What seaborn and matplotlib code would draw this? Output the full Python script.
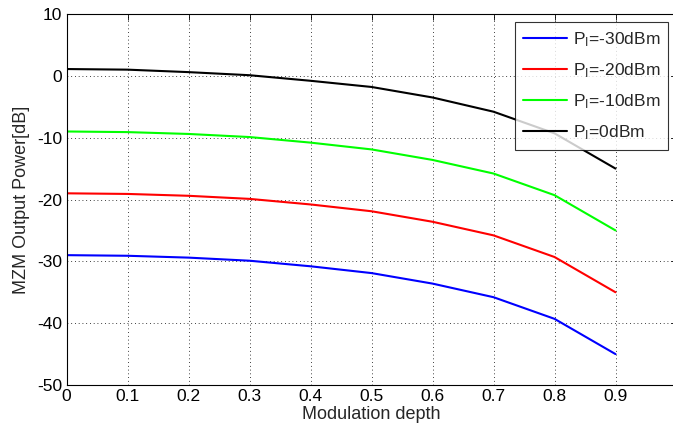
import numpy as np
import pandas as pd
import matplotlib
matplotlib.use("Agg")
import matplotlib.pyplot as plt
import seaborn as sns

depth = [0.0, 0.1, 0.2, 0.3, 0.4, 0.5, 0.6, 0.7, 0.8, 0.9]
p_m30 = [-29.0, -29.1, -29.4, -29.9, -30.8, -31.9, -33.6, -35.8, -39.3, -45.0]
p_m20 = [-19.0, -19.1, -19.4, -19.9, -20.8, -21.9, -23.6, -25.8, -29.3, -35.0]
p_m10 = [-9.0, -9.1, -9.4, -9.9, -10.8, -11.9, -13.6, -15.8, -19.3, -25.0]
p_0 = [1.1, 1.0, 0.6, 0.1, -0.8, -1.8, -3.5, -5.8, -9.3, -15.0]
labels = [r"$\mathregular{P_I}$=-30dBm", r"$\mathregular{P_I}$=-20dBm",
          r"$\mathregular{P_I}$=-10dBm", r"$\mathregular{P_I}$=0dBm"]
colors = ["#0000ff", "#ff0000", "#00ff00", "#000000"]
xticks = [0, 0.1, 0.2, 0.3, 0.4, 0.5, 0.6, 0.7, 0.8, 0.9, 1]
yticks = [-50, -40, -30, -20, -10, 0, 10]

rows = []
for lab, vals in zip(labels, [p_m30, p_m20, p_m10, p_0]):
    for x, y in zip(depth, vals):
        rows.append({"depth": x, "power": y, "series": lab})
df = pd.DataFrame(rows)

sns.set_theme(style="white")
plt.rcParams["font.family"] = ["Liberation Sans", "DejaVu Sans"]
plt.rcParams["mathtext.fontset"] = "custom"
plt.rcParams["mathtext.rm"] = "Liberation Sans"
plt.rcParams["axes.unicode_minus"] = False

fig = plt.figure(figsize=(6.73, 4.30), dpi=100)
ax = fig.add_axes([66.5 / 673, 1 - 385 / 430, 610 / 673, 371 / 430])
sns.lineplot(data=df, x="depth", y="power", hue="series", hue_order=labels,
             palette=colors, ax=ax, linewidth=1.5, legend=True)

ax.set_xlim(0, 1)
ax.set_ylim(-50, 10)
ax.set_xticks(xticks)
ax.set_xticklabels([("%g" % t) for t in xticks])
ax.set_yticks(yticks)
ax.set_yticklabels([("%d" % t) for t in yticks])
ax.grid(True, color="black", linestyle=(0, (1, 3.5)), linewidth=0.6)
for s in ax.spines.values():
    s.set_color("black")
    s.set_linewidth(0.8)
ax.tick_params(direction="in", length=4, width=0.6, colors="black",
               top=True, right=True, labelsize=12.5, pad=3)
ax.set_xlabel("Modulation depth", fontsize=13, labelpad=1)
ax.set_ylabel("MZM Output Power[dB]", fontsize=13, labelpad=5)

leg = ax.legend(loc="upper right", bbox_to_anchor=(668 / 673, 1 - 22 / 430),
                bbox_transform=fig.transFigure, borderaxespad=0, fontsize=12.5,
                frameon=True, fancybox=False, edgecolor="black",
                handlelength=2.5, handletextpad=0.35, labelspacing=0.72,
                borderpad=0.45)
leg.get_frame().set_linewidth(0.8)

fig.savefig("out.png", dpi=100)
